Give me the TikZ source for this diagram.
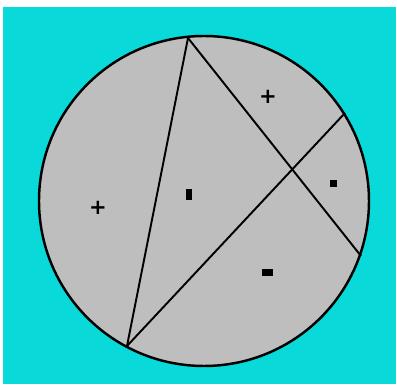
\documentclass[tikz,border=0pt]{standalone}
\usepackage{fontspec}
\newfontfamily\markfont{DejaVu Sans}
\definecolor{bgcyan}{RGB}{10,217,217}
\definecolor{discgray}{RGB}{190,190,190}
\begin{document}
\begin{tikzpicture}[x=0.02cm,y=-0.02cm,
  chord/.style={line width=1.1pt},
  plusmark/.style={font=\markfont\bfseries\large, inner sep=0pt},
  blob/.style={fill=black, inner sep=0pt}]
\useasboundingbox[fill=white] (0,0) rectangle (397,385);
\fill[bgcyan] (3,7) rectangle (396,384);
\draw[line width=1.4pt, fill=discgray] (204,201) circle[radius=165];
\coordinate (A) at (188,38);
\coordinate (B) at (127,346);
\coordinate (C) at (345,113);
\coordinate (D) at (361,256);
\draw[chord] (A) -- (B);
\draw[chord] (A) -- (D);
\draw[chord] (B) -- (C);
\node[plusmark] (plusleft) at (98,208) {+};
\node[plusmark] (plustop) at (268,97) {+};
\node[blob, minimum width=0.12cm, minimum height=0.22cm] (dotmid) at (189,195) {};
\node[blob, minimum width=0.14cm, minimum height=0.14cm] (dotright) at (334,184) {};
\node[blob, minimum width=0.22cm, minimum height=0.14cm] (minuslow) at (268,273) {};
\end{tikzpicture}
\end{document}
